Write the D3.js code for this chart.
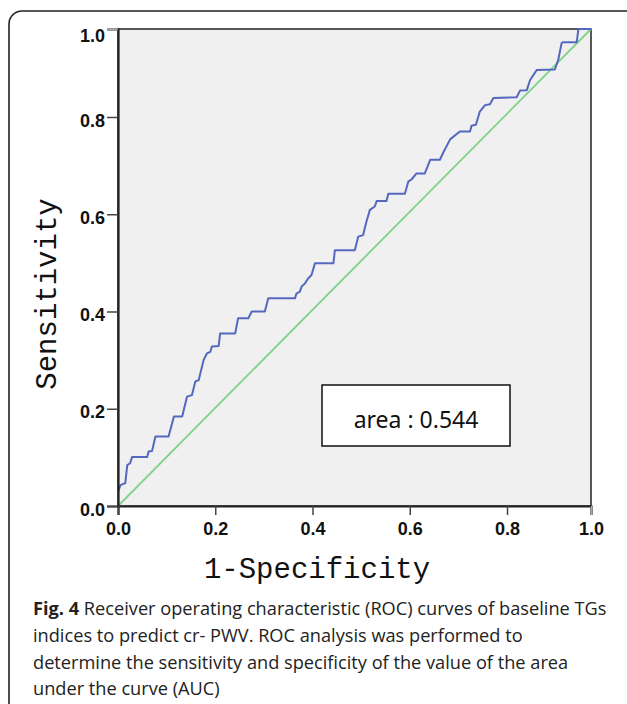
<!DOCTYPE html>
<html>
<head>
<meta charset="utf-8">
<script src="https://cdn.jsdelivr.net/npm/d3@7"></script>
<style>
  body { margin: 0; background: #fff; }
  svg { display: block; }
</style>
</head>
<body>
<div id="chart"></div>
<script>
// ROC curve points (1-specificity, sensitivity)
const fpr = [0, 0, 0.005, 0.015, 0.019, 0.025, 0.029, 0.060, 0.063, 0.070,
  0.077, 0.104, 0.115, 0.132, 0.142, 0.152, 0.159, 0.166, 0.176, 0.183,
  0.190, 0.193, 0.207, 0.210, 0.241, 0.247, 0.268, 0.275, 0.302, 0.309,
  0.364, 0.367, 0.374, 0.378, 0.384, 0.391, 0.398, 0.405, 0.443, 0.446,
  0.487, 0.494, 0.504, 0.511, 0.518, 0.528, 0.532, 0.552, 0.556, 0.590,
  0.597, 0.604, 0.614, 0.631, 0.642, 0.662, 0.669, 0.683, 0.703, 0.724,
  0.727, 0.736, 0.744, 0.755, 0.765, 0.772, 0.823, 0.831, 0.847, 0.855,
  0.871, 0.914, 0.922, 0.930, 0.934, 0.966, 0.970, 1.0];
const tpr = [0, 0.029, 0.043, 0.047, 0.084, 0.088, 0.101, 0.101, 0.112, 0.113,
  0.143, 0.143, 0.184, 0.184, 0.225, 0.228, 0.256, 0.259, 0.300, 0.314,
  0.317, 0.328, 0.329, 0.355, 0.355, 0.386, 0.386, 0.400, 0.400, 0.427,
  0.427, 0.437, 0.441, 0.452, 0.457, 0.468, 0.475, 0.499, 0.499, 0.526,
  0.526, 0.554, 0.557, 0.585, 0.609, 0.616, 0.627, 0.627, 0.642, 0.642,
  0.667, 0.672, 0.684, 0.684, 0.712, 0.712, 0.727, 0.754, 0.770, 0.770,
  0.782, 0.784, 0.812, 0.827, 0.829, 0.843, 0.845, 0.860, 0.861, 0.884,
  0.907, 0.908, 0.930, 0.968, 0.970, 0.970, 1.0, 1.0];
const refLine = [0, 1];
const xTicks = [0, 0.2, 0.4, 0.6, 0.8, 1.0];
const yTicks = [0, 0.2, 0.4, 0.6, 0.8, 1.0];
const areaLabel = "area : 0.544";
const xTitle = "1-Specificity";
const yTitle = "Sensitivity";
const captionLines = [
  ["Fig. 4", " Receiver operating characteristic (ROC) curves of baseline TGs"],
  ["", "indices to predict cr- PWV. ROC analysis was performed to"],
  ["", "determine the sensitivity and specificity of the value of the area"],
  ["", "under the curve (AUC)"]
];

const W = 627, H = 704;
const plot = { left: 118, right: 591, top: 29, bottom: 506 };

// the printed axes are not evenly spaced above 0.8, so use a piecewise scale
const x = d3.scaleLinear().domain([0, 0.8, 1]).range([plot.left, 507, plot.right]);
const y = d3.scaleLinear().domain([0, 0.8, 1]).range([plot.bottom, 117, plot.top]);

const svg = d3.select("#chart").append("svg")
  .attr("width", W).attr("height", H);

// outer figure frame (rounded top-left corner)
svg.append("path")
  .attr("d", `M9,${H} L9,24 A13,13 0 0 1 22,11 L${W},11`)
  .attr("fill", "none").attr("stroke", "#222").attr("stroke-width", 1.6);

// plot panel
svg.append("rect")
  .attr("x", plot.left).attr("y", plot.top)
  .attr("width", plot.right - plot.left).attr("height", plot.bottom - plot.top)
  .attr("fill", "#f0f0f0").attr("stroke", "#222").attr("stroke-width", 1.5);

// reference diagonal
svg.append("line")
  .attr("x1", x(refLine[0])).attr("y1", y(refLine[0]))
  .attr("x2", x(refLine[1])).attr("y2", y(refLine[1]))
  .attr("stroke", "#7ed389").attr("stroke-width", 1.8);

// ROC curve
const pts = fpr.map((v, i) => [v, tpr[i]]);
svg.append("path")
  .datum(pts)
  .attr("d", d3.line().x(d => x(d[0])).y(d => y(d[1])))
  .attr("fill", "none").attr("stroke", "#5468c0").attr("stroke-width", 2)
  .attr("stroke-linejoin", "round");

// axes
const fmt = d3.format(".1f");
const yAxis = svg.append("g")
  .attr("transform", `translate(${plot.left},0)`)
  .call(d3.axisLeft(y).tickValues(yTicks).tickFormat(fmt).tickSize(11).tickPadding(2));
const xAxis = svg.append("g")
  .attr("transform", `translate(0,${plot.bottom})`)
  .call(d3.axisBottom(x).tickValues(xTicks).tickFormat(fmt).tickSize(9).tickPadding(7));

[yAxis, xAxis].forEach(g => {
  g.select(".domain").attr("stroke", "#222").attr("stroke-width", 2.2);
  g.selectAll(".tick line").attr("stroke", "#444").attr("stroke-width", 1.5);
  g.selectAll(".tick text")
    .attr("fill", "#111")
    .style("font-family", "'Liberation Sans', Arial, sans-serif")
    .style("font-weight", "bold")
    .style("font-size", "18px");
});
yAxis.selectAll(".tick text").attr("dy", d => d === 1 ? "0.7em" : "0.5em");
yAxis.selectAll(".tick").filter(d => d === 1).select("line").attr("stroke", "#aaa");
xAxis.selectAll(".tick").filter(d => d === 1).select("line").attr("stroke", "#aaa");

// axis titles
svg.append("text")
  .attr("x", 317).attr("y", 578)
  .attr("text-anchor", "middle")
  .style("font-family", "'Liberation Mono', 'Courier New', monospace")
  .style("font-size", "29px")
  .attr("fill", "#111")
  .text(xTitle);
svg.append("text")
  .attr("transform", "translate(56,294) rotate(-90)")
  .attr("text-anchor", "middle")
  .style("font-family", "'Liberation Mono', 'Courier New', monospace")
  .style("font-size", "29px")
  .attr("fill", "#111")
  .text(yTitle);

// AUC box
svg.append("rect")
  .attr("x", 322).attr("y", 385).attr("width", 188).attr("height", 61)
  .attr("fill", "#fff").attr("stroke", "#111").attr("stroke-width", 1.5);
svg.append("text")
  .attr("x", 416).attr("y", 428)
  .attr("text-anchor", "middle")
  .style("font-family", "'Noto Sans', 'Open Sans', sans-serif")
  .style("font-size", "23px")
  .attr("fill", "#111")
  .text(areaLabel);

// caption
const cap = svg.append("text")
  .attr("x", 33)
  .style("font-family", "'Open Sans', 'Noto Sans', sans-serif")
  .style("font-size", "18.2px")
  .attr("fill", "#222");
captionLines.forEach((ln, i) => {
  const t = cap.append("tspan").attr("x", 33).attr("y", 615 + i * 26.8);
  if (ln[0]) t.append("tspan").style("font-weight", "bold").text(ln[0]);
  t.append("tspan").text(ln[1]);
});
</script>
</body>
</html>
